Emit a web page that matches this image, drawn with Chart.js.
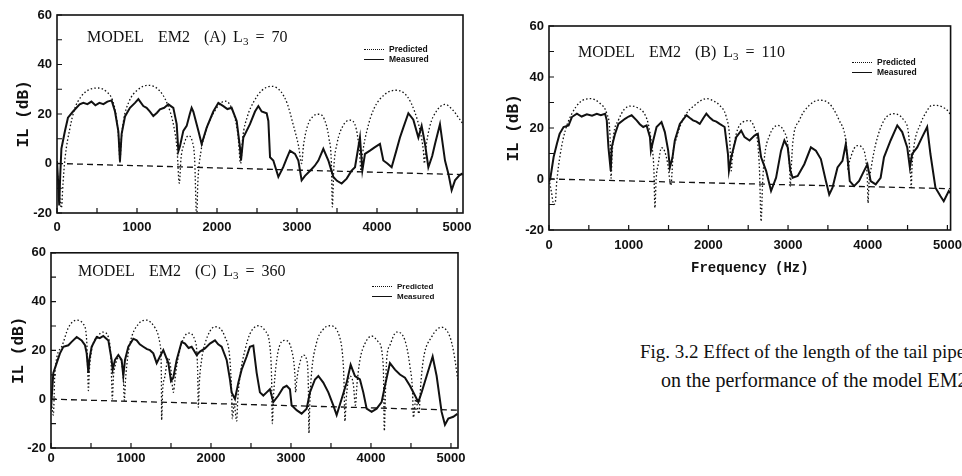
<!DOCTYPE html>
<html><head><meta charset="utf-8">
<script src="https://cdn.jsdelivr.net/npm/chart.js@4/dist/chart.umd.min.js"></script>
<style>
html,body{margin:0;padding:0;background:#fff;width:962px;height:476px;overflow:hidden;position:relative}
canvas{position:absolute}
.t{position:absolute;font-family:'Liberation Serif',serif;font-size:16px;line-height:16px;white-space:nowrap;color:#111;word-spacing:3px}
.t sub{font-size:11px;vertical-align:-3px;line-height:0}
.lg{position:absolute;font:bold 8.5px 'Liberation Sans',sans-serif;line-height:10px;color:#111;white-space:nowrap}
.lg span{display:inline-block;width:20px;margin-right:5px;vertical-align:middle}
.cap{position:absolute;font-family:'Liberation Serif',serif;font-size:19px;line-height:22px;white-space:nowrap;color:#111}
</style></head><body>
<canvas id="cA" width="480" height="245" style="left:0;top:0"></canvas>
<canvas id="cB" width="480" height="285" style="left:490px;top:0"></canvas>
<canvas id="cC" width="480" height="236" style="left:0;top:240px"></canvas>

<div class="t" style="left:87px;top:29px">MODEL&nbsp; EM2&nbsp; (A) L<sub>3</sub> = 70</div>
<div class="t" style="left:578px;top:44px">MODEL&nbsp; EM2&nbsp; (B) L<sub>3</sub> = 110</div>
<div class="t" style="left:78px;top:263px">MODEL&nbsp; EM2&nbsp; (C) L<sub>3</sub> = 360</div>

<div class="lg" style="left:364px;top:44px"><span style="border-top:1.3px dotted #111"></span>Predicted<br><span style="border-top:1.5px solid #111"></span>Measured</div>
<div class="lg" style="left:852px;top:57px"><span style="border-top:1.3px dotted #111"></span>Predicted<br><span style="border-top:1.5px solid #111"></span>Measured</div>
<div class="lg" style="left:372px;top:282px;font-size:8px"><span style="border-top:1.3px dotted #111"></span>Predicted<br><span style="border-top:1.5px solid #111"></span>Measured</div>

<div class="cap" style="left:640px;top:341px">Fig. 3.2 Effect of the length of the tail pipe</div>
<div class="cap" style="left:661px;top:369px;font-size:20px">on the performance of the model EM2</div>

<script>
// ---------- data: [frequency (Hz), IL (dB)] ----------
const predictedA = [[0,-2],[30,-12],[55,-18],[75,-8],[100,2],[160,14],[220,22],[300,27],[400,29.8],[516,30.5],[620,29],[700,25],[750,17],[775,8],[787,0],
[800,8],[830,17],[900,25],[1000,29.5],[1141,31.6],[1280,29.5],[1380,24],[1460,15],[1500,6],[1529,-8],
[1550,2],[1590,8],[1641,11.2],[1690,9],[1720,2],[1746,-22],
[1760,-8],[1800,5],[1850,12],[1950,20],[2100,25.2],[2200,21],[2260,12],[2296,0],
[2320,10],[2380,19],[2460,25],[2560,29.5],[2683,31.2],[2800,29],[2880,24],[2950,16],[3020,7],[3058,0],
[3080,7],[3130,15],[3200,19],[3267,19.9],[3340,18],[3400,10],[3430,0],[3442,-17.5],
[3460,-2],[3500,8],[3580,15.5],[3662,17.5],[3740,14],[3780,5],[3800,-3],
[3820,4],[3880,14],[3960,22],[4100,28],[4246,29.6],[4380,27],[4470,21],[4540,13],[4580,5],[4592,0],
[4610,6],[4660,15],[4740,21],[4850,23.9],[4950,21.5],[5030,18],[5075,16]];
const measuredA = [[0,1],[15,-8],[28,-17],[40,-5],[55,6],[80,10],[100,13.2],[137,18.5],[200,21],[283,23.9],[329,24.5],[380,24],[430,25],[480,23.5],[530,24.5],[580,24],[630,25],[683,25.5],[725,21],[767,13],[787,1],[808,12],[850,19],[912,22.5],[975,24.5],[1017,26],[1079,23.2],[1120,22.5],[1162,21],[1204,19.2],[1250,20.5],[1287,21.9],[1340,22.5],[1392,23.9],[1454,22.5],[1496,15.9],[1517,5],[1537,7],[1579,13.2],[1621,15.2],[1660,20],[1683,22.5],[1704,21],[1767,13.2],[1808,7.9],[1871,14.5],[1954,21],[2017,24.5],[2079,23.2],[2130,22],[2183,22.5],[2246,17.2],[2287,6.5],[2300,1.2],[2329,10.5],[2412,15.9],[2475,21],[2517,23.2],[2558,21],[2621,20.3],[2642,17.2],[2663,2.5],[2704,1.2],[2767,-5.4],[2829,-1.4],[2870,2],[2912,5.2],[2975,3.9],[3017,1.2],[3058,-6.8],[3100,-5],[3167,-2.8],[3220,-1],[3267,1.2],[3329,5.9],[3392,1.2],[3454,-5.4],[3500,-7],[3558,-8.1],[3621,-6.1],[3680,-3],[3725,-1.5],[3787,10.5],[3817,-2.8],[3850,3.9],[3912,5.2],[3970,6.5],[4037,7.9],[4079,1.2],[4130,0],[4183,-1.5],[4240,5],[4287,10.5],[4329,14.5],[4392,20.3],[4454,17.7],[4517,10.5],[4558,15.2],[4600,7.9],[4642,-1.5],[4690,3],[4725,7.9],[4787,15.9],[4850,1.2],[4892,-4.1],[4933,-10.8],[4975,-6.8],[5030,-4.8],[5070,-4]];
const baselineA = [[0,0],[5075,-4.5]];

const predictedB = [[0,0],[30,-5],[60,-10],[80,-9],[95,-2],[142,9.8],[204,19],[287,25.6],[392,30.2],[517,31.5],[642,29.6],[725,25.6],[767,16.4],[779,0.3],
[790,8],[808,16.4],[871,23],[950,27.5],[1037,28.6],[1120,27.8],[1183,26.3],[1246,21.6],[1287,13.7],[1317,3.2],[1329,-11.3],
[1345,0],[1371,5.9],[1412,12.3],[1450,11],[1490,6],[1530,-2.5],
[1545,3],[1558,10.2],[1600,16],[1642,20.4],[1720,25.5],[1808,28.4],[1975,31.5],[2070,30.5],[2142,28.9],[2225,24.3],[2267,16.4],[2287,3.2],
[2300,8],[2350,17.7],[2433,22.3],[2517,22.9],[2579,20],[2620,14],[2642,3.2],[2662,-16.6],
[2680,-2],[2704,8.5],[2767,17],[2871,21],[2954,18.4],[2996,13.7],[3020,4],[3029,-2.8],
[3040,4],[3058,13.7],[3142,23],[3267,28.9],[3392,30.9],[3517,29.6],[3642,23],[3725,15.1],[3745,8],[3754,3.2],
[3765,6],[3787,8.5],[3830,12],[3871,13.1],[3954,11.1],[3985,5],[3996,-0.8],[4004,-9.4],
[4015,-2],[4037,3.2],[4100,13.7],[4204,23],[4329,25.6],[4454,23],[4517,16.4],[4537,3.2],[4546,-3.4],
[4555,4],[4579,12.5],[4662,21.6],[4730,26],[4808,28.9],[4933,28.3],[5017,26.3],[5040,25]];
const measuredB = [[0,-1],[17,0.3],[58,8.6],[100,13.9],[133,17.7],[183,20.4],[246,21],[287,24.3],[350,25.6],[410,24.5],[475,25.4],[540,24.8],[600,25.6],[650,25],[704,25.6],[725,23],[746,12.4],[775,3.2],[787,12.4],[829,17.7],[871,21.6],[954,23.6],[1000,24.5],[1037,25],[1100,23],[1140,21.5],[1183,20.4],[1225,21],[1267,16.4],[1279,11.1],[1308,15.1],[1350,20.4],[1412,22.3],[1454,18.4],[1496,11.1],[1517,4.5],[1550,8.5],[1579,15.1],[1642,21.6],[1725,25],[1765,24],[1808,23],[1850,22.5],[1892,21.6],[1940,24],[1975,25.6],[2020,24],[2058,23],[2100,22.5],[2142,21.6],[2204,20.4],[2246,9.8],[2258,3.2],[2287,8.5],[2350,16.4],[2412,19],[2454,16.4],[2517,15.1],[2579,17],[2621,17.7],[2662,8.5],[2725,3.2],[2787,-4.7],[2850,0.5],[2912,11.1],[2954,15.1],[2996,12.4],[3029,3.2],[3058,0.5],[3121,1.2],[3204,5.8],[3287,12.4],[3350,11.1],[3412,7.8],[3475,-0.8],[3517,-6.1],[3558,-3.4],[3621,4.5],[3683,7.1],[3725,13.7],[3746,8.5],[3775,-0.8],[3829,-2.8],[3892,-0.8],[3954,3.2],[3996,5.8],[4037,-0.8],[4100,-2.1],[4162,0.5],[4204,8.5],[4287,15.1],[4371,21],[4433,18.4],[4496,12.4],[4529,4.5],[4558,9.8],[4621,12.4],[4683,16.4],[4746,20.4],[4787,9.8],[4850,-3.4],[4912,-6.7],[4954,-8.7],[5017,-4.7],[5038,-5.5]];
const baselineB = [[0,0],[5040,-3.8]];

const predictedC = [[0,0],[15,-4],[29,-6.5],[40,2],[46,9.7],[133,21.5],[217,29.3],[321,32.4],[404,30.8],[446,24.1],[458,13.5],[467,3.5],
[480,12],[508,20.1],[592,26.1],[654,27.5],[717,25.5],[750,16.1],[767,0.1],
[780,9],[800,13.5],[842,16.8],[883,14.8],[905,8],[917,-0.5],
[930,7],[946,13.5],[987,22.8],[1092,30.8],[1196,32.4],[1300,29.3],[1362,22.8],[1380,9.5],[1383,-8.6],
[1395,3],[1425,9.5],[1467,17],[1500,12],[1529,2.8],
[1550,8],[1571,13.5],[1633,22.8],[1717,27.1],[1800,24.1],[1833,12.1],[1842,-3.3],
[1855,7],[1883,16.1],[1925,22.8],[2050,29.7],[2175,25.5],[2237,16.1],[2258,2.8],[2267,-8],[2290,-2],[2321,-9],
[2335,0],[2363,9.5],[2425,20.1],[2487,26.8],[2592,30.1],[2675,28.1],[2737,21.5],[2758,8.1],[2767,-10],
[2780,0],[2800,9.5],[2842,20.1],[2925,24.1],[3008,20.1],[3050,9.5],[3058,2.8],
[3070,7],[3092,12.1],[3154,18.1],[3196,16.1],[3217,5.5],[3225,-14],
[3235,-2],[3254,9.5],[3317,22.8],[3400,28.5],[3483,30.1],[3608,25.5],[3650,16.1],[3662,8.1],[3675,-9],
[3690,0],[3737,9.5],[3780,6],[3805,-2.5],
[3825,6],[3862,16.1],[3925,22.8],[4008,25.9],[4092,23.5],[4154,13.5],[4167,-13],
[4180,2],[4196,16.1],[4237,22.1],[4321,27.5],[4425,24.1],[4487,13.5],[4520,2.8],[4530,-7.5],[4560,0],[4600,-6],
[4620,5],[4654,16.1],[4758,25.5],[4883,29.5],[4988,25.5],[5037,18.8],[5085,8]];
const measuredC = [[0,-4],[13,2.8],[29,10.8],[71,14.8],[112,18.8],[154,21.5],[217,22.1],[258,23.5],[321,25.5],[383,24.1],[425,22.1],[446,18.8],[467,10.8],[479,16.1],[508,21.5],[571,25.5],[610,25],[654,25.9],[717,24.1],[758,16.1],[771,12.1],[800,16.1],[842,18.1],[883,16.1],[904,9.5],[925,16.1],[967,21.5],[1029,24.8],[1071,24.1],[1110,22.5],[1154,21.5],[1200,20.5],[1237,20.1],[1279,18.8],[1321,14.8],[1362,17.5],[1404,20.1],[1467,14.8],[1500,7.5],[1529,8.8],[1571,16.1],[1633,23.5],[1675,22.8],[1720,21],[1758,21.5],[1821,18.1],[1862,19.5],[1925,20.8],[1987,22.8],[2050,24.1],[2090,22.5],[2133,21.5],[2196,16.1],[2237,8.1],[2258,2.8],[2300,0.1],[2342,6.8],[2383,12.1],[2446,17.5],[2487,21.5],[2529,22],[2571,10.8],[2612,2.8],[2654,1.5],[2696,2.8],[2737,4.1],[2779,-1.2],[2842,1.5],[2904,4.8],[2946,5.5],[2987,4.1],[3008,-2.5],[3071,-4.5],[3133,-5.9],[3196,-3.9],[3237,2.8],[3300,8.1],[3342,9.5],[3404,6.8],[3467,2.8],[3529,-2.5],[3571,-6.5],[3633,0.1],[3696,6.8],[3746,14.1],[3800,9.5],[3862,8.1],[3904,2.8],[3946,-3.9],[4008,-5.2],[4071,-3.9],[4133,-1.2],[4175,5.5],[4237,14.8],[4300,12.1],[4362,10.1],[4425,8.8],[4487,5.5],[4550,1.5],[4592,-1.2],[4633,2.8],[4696,9.5],[4771,17.5],[4821,9.5],[4883,-5.2],[4925,-10.5],[4967,-7.9],[5029,-7.2],[5080,-6]];
const baselineC = [[0,0],[5088,-4.5]];

// tick positions (minor marks) and labelled ticks
const xTickValues = [0, 500, 1000, 1500, 2000, 2500, 3000, 3500, 4000, 4500, 5000];
const xTickLabels = [0, 1000, 2000, 3000, 4000, 5000];
const yTickValues = [-20, -10, 0, 10, 20, 30, 40, 50, 60];
const yTickLabels = [-20, 0, 20, 40, 60];

// ---------- drawing ----------
const INK = '#111';
const toXY = arr => arr.map(p => ({x: p[0], y: p[1]}));

const framePlugin = {
  id: 'frame',
  afterDatasetsDraw(chart) {
    const {ctx, chartArea: a, scales: {x, y}} = chart;
    ctx.save();
    ctx.strokeStyle = INK;
    ctx.lineWidth = 1.6;
    ctx.strokeRect(a.left, a.top, a.right - a.left, a.bottom - a.top);
    ctx.lineWidth = 1.2;
    ctx.beginPath();
    x.ticks.forEach(t => { const px = x.getPixelForValue(t.value); ctx.moveTo(px, a.bottom); ctx.lineTo(px, a.bottom - 5); });
    y.ticks.forEach(t => { const py = y.getPixelForValue(t.value); ctx.moveTo(a.left, py); ctx.lineTo(a.left + 5, py); });
    ctx.stroke();
    ctx.restore();
  }
};

function makeChart(id, pred, meas, base, cfg) {
  return new Chart(document.getElementById(id), {
    type: 'line',
    data: {
      datasets: [
        {label: 'Zero', data: toXY(base), borderColor: INK, borderWidth: 1.3, borderDash: [6, 4], pointRadius: 0, tension: 0},
        {label: 'Predicted', data: toXY(pred), borderColor: INK, borderWidth: 1.3, borderDash: [1.5, 2.2], pointRadius: 0, cubicInterpolationMode: 'monotone'},
        {label: 'Measured', data: toXY(meas), borderColor: INK, borderWidth: 2, pointRadius: 0, tension: 0}
      ]
    },
    options: {
      responsive: false, animation: false, events: [],
      layout: {padding: {top: cfg.padTop, right: cfg.padRight, left: 0, bottom: 0}},
      plugins: {legend: {display: false}, tooltip: {enabled: false}},
      scales: {
        x: {
          type: 'linear', min: 0, max: cfg.xMax,
          grid: {display: false, drawTicks: false}, border: {display: false},
          afterBuildTicks: s => { s.ticks = xTickValues.map(v => ({value: v})); },
          ticks: {autoSkip: false, maxRotation: 0, padding: cfg.xPad,
            color: INK, font: {family: 'Liberation Sans', weight: 'bold', size: 13},
            callback: v => xTickLabels.includes(v) ? String(v) : ''},
          title: {display: !!cfg.xTitle, text: cfg.xTitle || '', color: INK, padding: {top: 2, bottom: 8},
            font: {family: 'Liberation Mono', weight: 'bold', size: 14}},
          afterFit: s => { s.height = cfg.xHeight; }
        },
        y: {
          type: 'linear', min: -20, max: 60,
          grid: {display: false, drawTicks: false}, border: {display: false},
          afterBuildTicks: s => { s.ticks = yTickValues.map(v => ({value: v})); },
          ticks: {autoSkip: false, padding: 5, color: INK,
            font: {family: 'Liberation Sans', weight: 'bold', size: 13},
            callback: v => yTickLabels.includes(v) ? String(v) : ''},
          title: {display: true, text: 'IL (dB)', color: INK, padding: {top: cfg.yTitlePad, bottom: 0},
            font: {family: 'Liberation Mono', weight: 'bold', size: 16}},
          afterFit: s => { s.width = cfg.yWidth; }
        }
      }
    },
    plugins: [framePlugin]
  });
}

makeChart('cA', predictedA, measuredA, baselineA, {xMax: 5075, padTop: 15, padRight: 17, yWidth: 57, xHeight: 32, xPad: 7, yTitlePad: 14});
makeChart('cB', predictedB, measuredB, baselineB, {xMax: 5040, padTop: 26, padRight: 18, yWidth: 59, xHeight: 55, xPad: 8, yTitlePad: 14, xTitle: 'Frequency (Hz)'});
makeChart('cC', predictedC, measuredC, baselineC, {xMax: 5088, padTop: 10, padRight: 22, yWidth: 51, xHeight: 28, xPad: 3, yTitlePad: 9});
</script>
</body></html>
